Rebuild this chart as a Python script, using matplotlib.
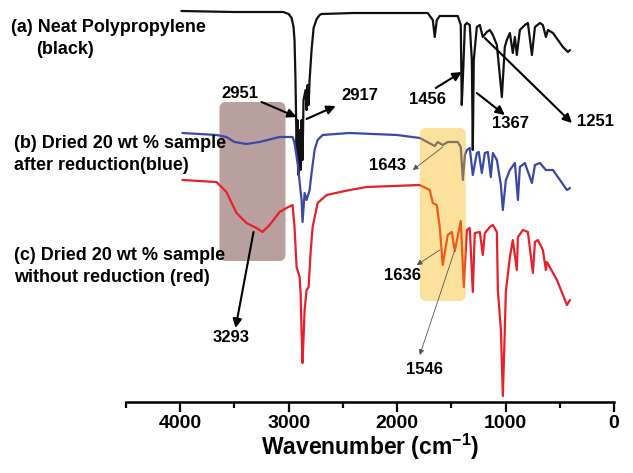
import matplotlib
matplotlib.use('Agg')
import matplotlib.pyplot as plt
from matplotlib.patches import FancyBboxPatch
from matplotlib.ticker import MultipleLocator

plt.rcParams['font.family'] = ['Liberation Sans', 'DejaVu Sans']
plt.rcParams['mathtext.fontset'] = 'custom'
plt.rcParams['mathtext.rm'] = 'Liberation Sans'
plt.rcParams['mathtext.bf'] = 'Liberation Sans:bold'

# (a) neat polypropylene, black (wavenumber cm-1, transmittance a.u. incl. offset)
wn_a = [3989, 3500, 3050, 3000, 2973, 2955, 2946, 2937, 2927, 2918, 2909, 2899, 2890,
        2881, 2872, 2863, 2844, 2835, 2826, 2816, 2807, 2789, 2770, 2742, 2715, 2696,
        2400, 2000, 1718, 1671, 1653, 1634, 1607, 1441, 1413, 1404, 1394, 1375, 1357,
        1330, 1311, 1302, 1293, 1265, 1237, 1210, 1173, 1145, 1117, 1080, 1034, 1007,
        988, 960, 933, 914, 896, 868, 822, 794, 757, 729, 683, 656, 628, 609, 563, 471,
        425, 406]
t_a = [391, 390, 390, 388, 384, 375, 362, 322, 252, 282, 227, 272, 232,
       282, 242, 302, 312, 292, 317, 297, 322, 352, 374, 383, 387, 388,
       389, 389, 389, 382, 365, 382, 386, 386, 377, 297, 322, 377, 379,
       377, 342, 252, 342, 375, 377, 365, 370, 372, 367, 357, 305, 355,
       362, 369, 349, 365, 347, 372, 377, 379, 347, 375, 379, 377, 365, 372, 369, 355,
       350, 352]

# (b) dried 20 wt % after reduction, blue
wn_b = [3980, 3666, 3574, 3500, 3389, 3269, 3084, 2964, 2946, 2918, 2881, 2872, 2853,
        2835, 2807, 2789, 2761, 2733, 2687, 2438, 2000, 1791, 1653, 1625, 1579, 1533,
        1441, 1413, 1394, 1375, 1357, 1330, 1302, 1265, 1247, 1219, 1191, 1163, 1136,
        1117, 1080, 1043, 1025, 997, 960, 914, 886, 868, 822, 757, 729, 683, 628, 563,
        434, 406]
t_b = [269, 267, 265, 260, 258, 260, 265, 265, 259, 239, 202, 180, 209,
       202, 212, 229, 252, 262, 267, 269, 267, 264, 256, 260, 257, 260,
       260, 255, 222, 247, 252, 254, 227, 249, 250, 229, 249, 250, 225,
       249, 242, 217, 192, 222, 232, 239, 202, 235, 239, 219, 237, 239, 232, 232,
       212, 214]

# (c) dried 20 wt % without reduction, red
wn_c = [3980, 3666, 3574, 3481, 3389, 3297, 3241, 3176, 3084, 3020, 2964, 2946, 2927,
        2899, 2890, 2881, 2872, 2853, 2835, 2816, 2798, 2779, 2733, 2650, 2438, 2281,
        1791, 1699, 1671, 1634, 1607, 1579, 1533, 1496, 1468, 1413, 1385, 1357, 1330,
        1302, 1284, 1237, 1210, 1191, 1145, 1117, 1080, 1071, 1043, 1025, 1007, 997,
        960, 933, 896, 886, 840, 794, 748, 729, 702, 656, 628, 619, 526, 434, 406]
t_c = [222, 220, 210, 189, 179, 174, 170, 177, 190, 194, 197, 175, 135,
       125, 109, 69, 39, 92, 112, 115, 149, 175, 199, 207, 212, 215,
       217, 212, 199, 197, 175, 137, 167, 170, 151, 181, 115, 172, 174,
       110, 169, 170, 147, 169, 175, 177, 170, 112, 72, 6, 72, 111,
       145, 162, 132, 165, 172, 170, 129, 160, 162, 152, 132, 140, 122, 97, 102]

# peak labels: text, label position, arrow tail, arrow tip
bold_peaks = [
    ('2951', (3453, 309), (3250, 300), (2927, 285)),
    ('2917', (2345, 307), (2835, 283), (2567, 296)),
    ('1456', (1718, 302), (1644, 314), (1404, 330)),
    ('1367', (951, 278), (1265, 309), (1007, 287)),
    ('1251', (166, 280), (1191, 364), (388, 279)),
    ('3293', (3527, 65), (3324, 170), (3490, 74)),
]
thin_peaks = [
    ('1643', (2087, 237), (1579, 255), (1856, 232)),
    ('1636', (1948, 126), (1607, 152), (1819, 137)),
    ('1546', (1745, 33), (1468, 152), (1791, 47)),
]

fig = plt.figure(figsize=(6.33, 4.73), dpi=100)
ax = fig.add_axes([126 / 633, 71 / 473, 488 / 633, 402 / 473])

line_kw = dict(lw=1.6, zorder=3, solid_joinstyle='round', solid_capstyle='round')
ax.plot(wn_a, t_a, color='#111111', **line_kw)
ax.plot(wn_b, t_b, color='#3a48a6', **line_kw)
ax.plot(wn_c, t_c, color='#e8202a', **line_kw)

# highlight boxes
brown = FancyBboxPatch((3029, 141), 609, 159, boxstyle='round,pad=0,rounding_size=60',
                       mutation_aspect=1 / 9.234, facecolor='#b9a09e', edgecolor='none',
                       zorder=1)
yellow = FancyBboxPatch((1367, 101), 424, 173, boxstyle='round,pad=0,rounding_size=60',
                        mutation_aspect=1 / 9.234, facecolor='#f7b605', alpha=0.4,
                        edgecolor='none', zorder=4)
ax.add_patch(brown)
ax.add_patch(yellow)

for label, pos, tail, tip in bold_peaks:
    ax.annotate('', xy=tip, xytext=tail,
                arrowprops=dict(arrowstyle='-|>', color='black', lw=1.5,
                                mutation_scale=13, shrinkA=0, shrinkB=0), zorder=5)
    ax.text(pos[0], pos[1], label, fontsize=12, fontweight='bold',
            ha='center', va='center', zorder=6)

for label, pos, tail, tip in thin_peaks:
    ax.annotate('', xy=tip, xytext=tail,
                arrowprops=dict(arrowstyle='-|>', color='#555555', lw=0.6,
                                mutation_scale=8, shrinkA=0, shrinkB=0), zorder=5)
    ax.text(pos[0], pos[1], label, fontsize=12, fontweight='bold',
            ha='center', va='center', zorder=6)

# sample labels
lab = dict(fontsize=13, fontweight='bold', ha='left', va='center', zorder=6)
ax.text(5559, 375, '(a) Neat Polypropylene', **lab)
ax.text(5328, 352, '(black)', **lab)
ax.text(5531, 258, '(b) Dried 20 wt % sample', **lab)
ax.text(5531, 237, 'after reduction(blue)', **lab)
ax.text(5531, 147, '(c) Dried 20 wt % sample', **lab)
ax.text(5531, 124, 'without reduction (red)', **lab)

ax.set_xlim(4500, 0)
ax.set_ylim(0, 402)
for side in ['top', 'left', 'right']:
    ax.spines[side].set_visible(False)
ax.spines['bottom'].set_linewidth(1.8)
ax.set_yticks([])
ax.xaxis.set_major_locator(MultipleLocator(1000))
ax.xaxis.set_minor_locator(MultipleLocator(500))
ax.tick_params(axis='x', which='major', length=7, width=1.6, labelsize=14, pad=2)
ax.tick_params(axis='x', which='minor', length=4, width=1.6)
for t in ax.get_xticklabels():
    t.set_fontweight('bold')
ax.set_xlabel(r'Wavenumber (cm$^{\mathbf{-1}}$)', fontsize=16.5, fontweight='bold',
              labelpad=0)
ax.patch.set_visible(False)

fig.savefig('out.png', dpi=100)
